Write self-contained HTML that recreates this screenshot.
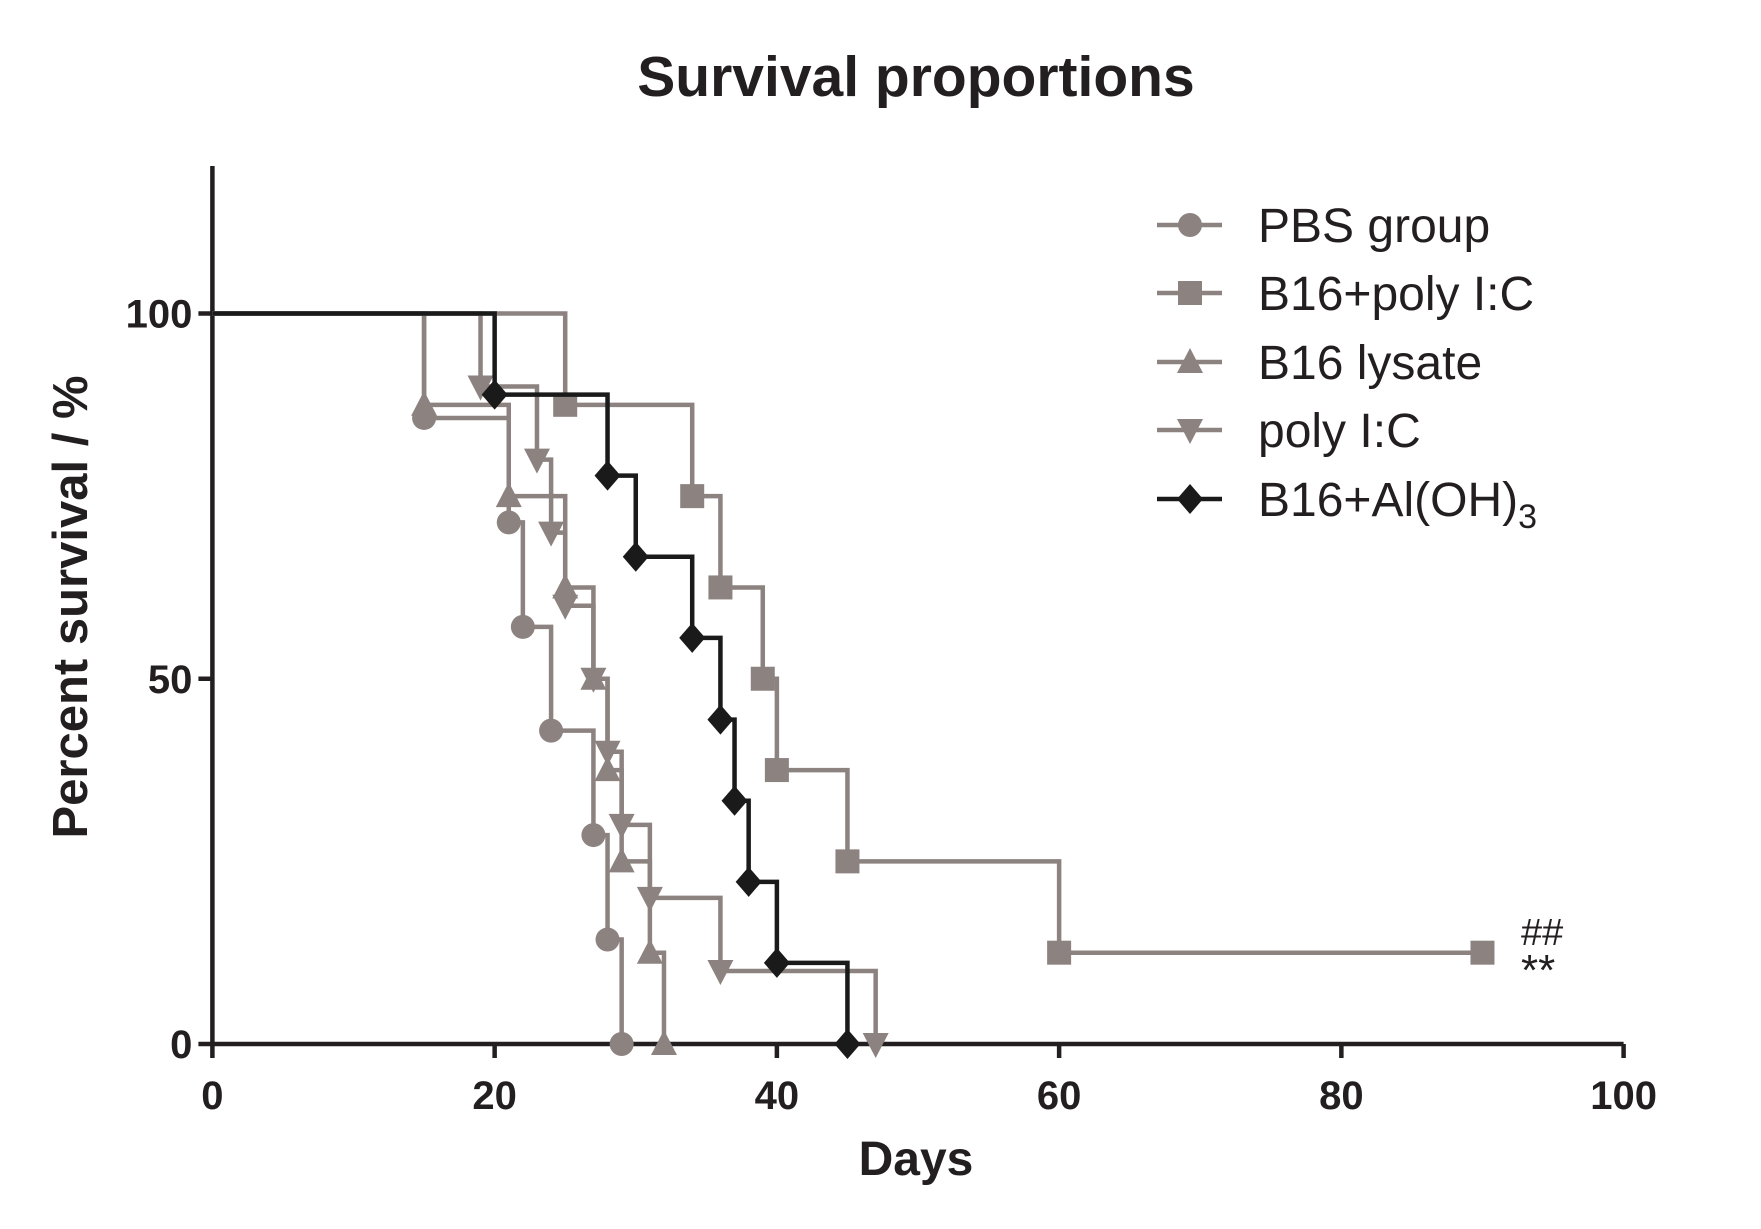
<!DOCTYPE html>
<html><head><meta charset="utf-8"><style>
html,body{margin:0;padding:0;background:#fff}
svg{display:block}
text{font-family:"Liberation Sans",Arial,sans-serif}
</style></head><body>
<svg id="chart" width="1761" height="1229" viewBox="0 0 1761 1229" xmlns="http://www.w3.org/2000/svg">
<text x="916" y="96" text-anchor="middle" font-size="57" font-weight="bold" fill="#231f20">Survival proportions</text>
<g id="axes"></g>
<g id="series"></g>
<g id="legend"></g>
<text x="1521" y="945" font-size="38" fill="#231f20">##</text>
<text x="1521" y="985" font-size="44" fill="#231f20">**</text>
<text x="916" y="1175" text-anchor="middle" font-size="48" font-weight="bold" fill="#231f20">Days</text>
<text transform="translate(87,607) rotate(-90)" text-anchor="middle" font-size="49" font-weight="bold" fill="#231f20">Percent survival / %</text>
</svg>
<script>
const xTicks=[0,20,40,60,80,100];
const yTicks=[0,50,100];
const seriesNames=["PBS group","B16+poly I:C","B16 lysate","poly I:C","B16+Al(OH)3"];
const pbsTimes=[15,21,22,24,27,28,29];
const pbsSurv=[85.7,71.4,57.1,42.9,28.6,14.3,0];
const polyB16Times=[25,34,36,39,40,45,60,90];
const polyB16Surv=[87.5,75,62.5,50,37.5,25,12.5,12.5];
const lysateTimes=[15,21,25,27,28,29,31,32];
const lysateSurv=[87.5,75,62.5,50,37.5,25,12.5,0];
const polyTimes=[19,23,24,25,27,28,29,31,36,47];
const polySurv=[90,80,70,60,50,40,30,20,10,0];
const alohTimes=[20,28,30,34,36,37,38,40,45];
const alohSurv=[88.9,77.8,66.7,55.6,44.4,33.3,22.2,11.1,0];

const NS="http://www.w3.org/2000/svg";
const X=d=>212.4+(d/100)*(1623.6-212.4);
const Y=p=>1044-(p/100)*(1044-313.5);
function mk(tag,parent){const e=document.createElementNS(NS,tag);parent.appendChild(e);return e;}
const axes=document.getElementById('axes');
const ax=mk('path',axes);


ax.setAttribute('d',`M${X(0)},166 L${X(0)},${Y(0)} L${X(100)},${Y(0)}`);
ax.setAttribute('stroke','#231f20');ax.setAttribute('stroke-width','4.5');ax.setAttribute('fill','none');
xTicks.forEach(t=>{
 const l=mk('line',axes);
 
 
 l.setAttribute('x1',X(t));l.setAttribute('x2',X(t));l.setAttribute('y1',Y(0));l.setAttribute('y2',Y(0)+14);
 l.setAttribute('stroke','#231f20');l.setAttribute('stroke-width','4.5');
 const tx=mk('text',axes);
 
 
 tx.setAttribute('x',X(t));tx.setAttribute('y',Y(0)+65);tx.setAttribute('text-anchor','middle');
 tx.setAttribute('font-size','40');tx.setAttribute('font-weight','bold');tx.setAttribute('fill','#231f20');
 tx.textContent=t;
});
yTicks.forEach(t=>{
 const l=mk('line',axes);
 
 
 l.setAttribute('x1',X(0)-14);l.setAttribute('x2',X(0));l.setAttribute('y1',Y(t));l.setAttribute('y2',Y(t));
 l.setAttribute('stroke','#231f20');l.setAttribute('stroke-width','4.5');
 const tx=mk('text',axes);
 
 
 tx.setAttribute('x',X(0)-20);tx.setAttribute('y',Y(t)+14);tx.setAttribute('text-anchor','end');
 tx.setAttribute('font-size','40');tx.setAttribute('font-weight','bold');tx.setAttribute('fill','#231f20');
 tx.textContent=t;
});
function marker(g,shape,cx,cy,color){
 let e;
 const s=12;
 if(shape==='circle'){e=mk('circle',g);e.setAttribute('cx',cx);e.setAttribute('cy',cy);e.setAttribute('r',s);}
 else if(shape==='square'){e=mk('rect',g);e.setAttribute('x',cx-s);e.setAttribute('y',cy-s);e.setAttribute('width',2*s);e.setAttribute('height',2*s);}
 else{e=mk('polygon',g);let p;
  if(shape==='up')p=[[cx,cy-s-2],[cx+s+1,cy+s-1],[cx-s-1,cy+s-1]];
  else if(shape==='down')p=[[cx,cy+s+2],[cx+s+1,cy-s+1],[cx-s-1,cy-s+1]];
  else p=[[cx,cy-s-3],[cx+s+1,cy],[cx,cy+s+3],[cx-s-1,cy]];
  e.setAttribute('points',p.map(q=>q.join(',')).join(' '));}
 e.setAttribute('fill',color);
 return e;
}
const seriesDefs=[
 {t:pbsTimes,s:pbsSurv,shape:'circle',c:'#8c8280',n:'pbs'},
 {t:polyB16Times,s:polyB16Surv,shape:'square',c:'#8c8280',n:'b16-poly-ic'},
 {t:lysateTimes,s:lysateSurv,shape:'up',c:'#8c8280',n:'b16-lysate'},
 {t:polyTimes,s:polySurv,shape:'down',c:'#8c8280',n:'poly-ic'},
 {t:alohTimes,s:alohSurv,shape:'diamond',c:'#1a1a1a',n:'b16-aloh3'}
];
const sg=document.getElementById('series');
seriesDefs.forEach(sd=>{
 const g=mk('g',sg);
 
 
 let d=`M${X(0)},${Y(100)}`;let prev=100;
 sd.t.forEach((t,i)=>{d+=` L${X(t)},${Y(prev)} L${X(t)},${Y(sd.s[i])}`;prev=sd.s[i];});
 const p=mk('path',g);
 
 
 p.setAttribute('d',d);p.setAttribute('fill','none');p.setAttribute('stroke',sd.c);p.setAttribute('stroke-width','4.5');
 sd.t.forEach((t,i)=>{
  const m=marker(g,sd.shape,X(t),Y(sd.s[i]),sd.c);
  
  
 });
});
const lg=document.getElementById('legend');
const rows=[225,293,362,430,499];
seriesDefs.forEach((sd,i)=>{
 const y=rows[i];
 const g=mk('g',lg);
 
 
 const l=mk('line',g);
 l.setAttribute('x1',1157);l.setAttribute('x2',1222);l.setAttribute('y1',y);l.setAttribute('y2',y);
 l.setAttribute('stroke',sd.c);l.setAttribute('stroke-width','4.5');
 marker(g,sd.shape,1190,y,sd.c);
 const tx=mk('text',g);
 tx.setAttribute('x',1258);tx.setAttribute('y',y+17);tx.setAttribute('font-size','48');tx.setAttribute('fill','#231f20');
 if(i===4){tx.textContent='B16+Al(OH)';const ts=mk('tspan',tx);ts.setAttribute('font-size','34');ts.setAttribute('dy','12');ts.textContent='3';}
 else tx.textContent=seriesNames[i];
});
</script>
</body></html>
